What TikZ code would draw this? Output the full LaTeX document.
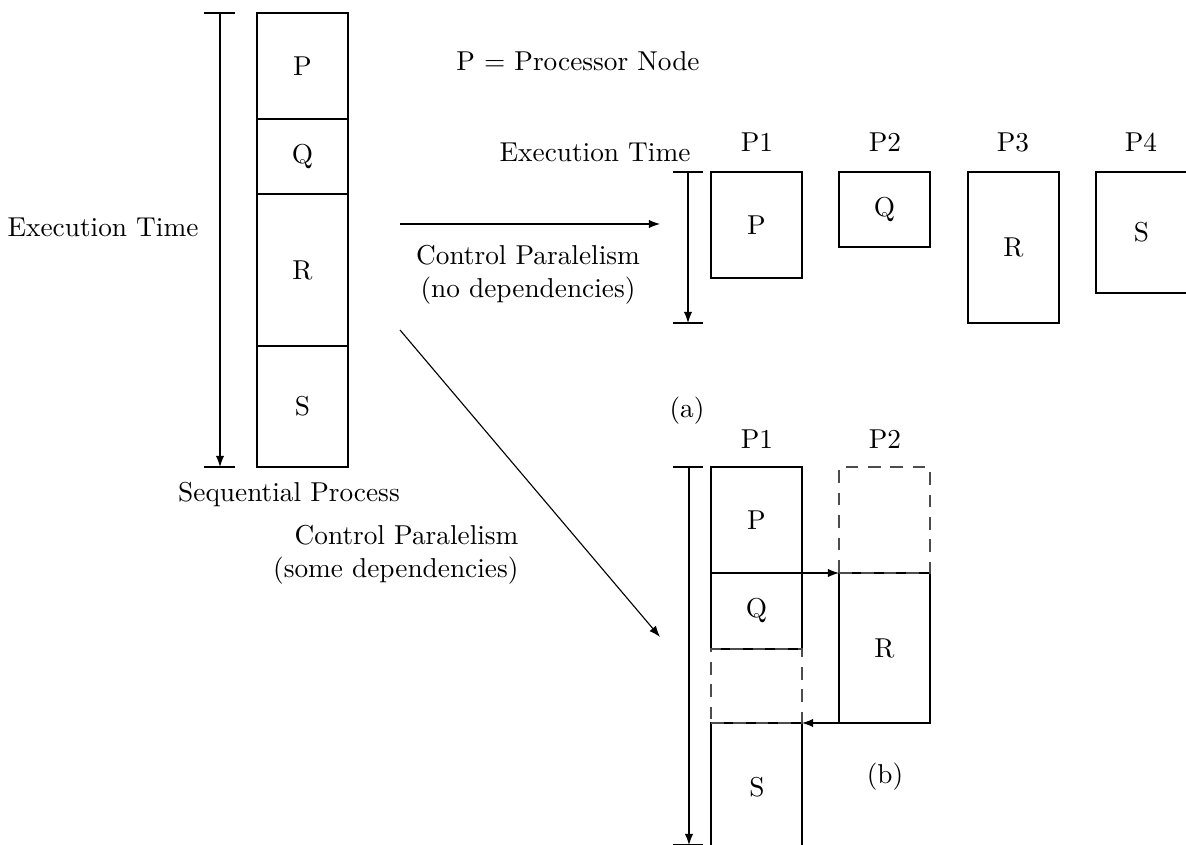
\documentclass[tikz,border=0pt]{standalone}
\usetikzlibrary{arrows.meta}
\newlength{\pxu}
\setlength{\pxu}{0.357pt}
\tikzset{
  box/.style={draw, line width=0.5pt, rectangle, inner sep=0pt, outer sep=0pt},
  ghost/.style={draw=black!70, line width=0.5pt, dash pattern=on 4.5pt off 3.5pt, rectangle, inner sep=0pt, outer sep=0pt},
  tick/.style={line width=0.5pt},
  arr/.style={line width=0.4pt, -{Latex[length=4pt,width=3pt]}},
  lbl/.style={inner sep=0pt, font=\fontsize{9.75}{11.8}\selectfont}
}
% box from corner (x1,y1) to (x2,y2) in pixel units: name, x1, y1, x2, y2, style, text
\newcommand{\pbox}[7]{%
  \node[#6, minimum width={(#4-#2)*\pxu}, minimum height={(#5-#3)*\pxu}, font=\fontsize{9.75}{11.8}\selectfont]
    (#1) at ({(#2+#4)/2},{(#3+#5)/2}) {#7};}
\begin{document}
\begin{tikzpicture}[x=\pxu, y=-\pxu]
\useasboundingbox (0,0) rectangle (1186,845);
\clip (0,0) rectangle (1186,845);

% sequential process
\pbox{sP}{257}{13}{348}{119}{box}{P}
\pbox{sQ}{257}{119}{348}{194}{box}{Q}
\pbox{sR}{257}{194}{348}{346}{box}{R}
\pbox{sS}{257}{346}{348}{467}{box}{S}
\coordinate (tA1) at (220,13);
\coordinate (tA2) at (220,467);
\draw[tick] (204,13) -- (235,13);
\draw[tick] (204,467) -- (235,467);
\draw[arr] (tA1) -- (tA2);
\node[lbl] (et1) at (103,227) {Execution Time};
\node[lbl] (sp) at (289,495) {Sequential Process};

\node[lbl] (legend) at (578,61) {P = Processor Node};

% (a) control parallelism, no dependencies
\coordinate (a1) at (400,224);
\coordinate (a2) at (660,224);
\draw[arr] (a1) -- (a2);
\node[lbl, align=center] (cpa) at (528,275) {Control Paralelism\\(no dependencies)};

\node[lbl] (et2) at (595,152) {Execution Time};
\draw[tick] (673,172) -- (703,172);
\draw[tick] (673,323) -- (703,323);
\coordinate (tB1) at (688,172);
\coordinate (tB2) at (688,323);
\draw[arr] (tB1) -- (tB2);

\pbox{aP}{711}{172}{802}{278}{box}{P}
\pbox{aQ}{839}{172}{930}{247}{box}{Q}
\pbox{aR}{968}{172}{1059}{323}{box}{R}
\pbox{aS}{1096}{172}{1187}{293}{box}{S}
\node[lbl] (hP1) at (757,142) {P1};
\node[lbl] (hP2) at (885,142) {P2};
\node[lbl] (hP3) at (1013,142) {P3};
\node[lbl] (hP4) at (1141,142) {P4};
\node[lbl] (capa) at (687,411) {(a)};

% (b) control parallelism, some dependencies
\coordinate (b1) at (400,330);
\coordinate (b2) at (660,637);
\draw[arr] (b1) -- (b2);
\node[lbl, align=right, anchor=east] (cpb) at (519,555) {Control Paralelism\\(some dependencies)};

\draw[tick] (673,467) -- (703,467);
\draw[tick] (673,845) -- (703,845);
\coordinate (tC1) at (689,467);
\coordinate (tC2) at (689,845);
\draw[arr] (tC1) -- (tC2);

\node[lbl] (hbP1) at (757,439) {P1};
\node[lbl] (hbP2) at (885,439) {P2};

\pbox{bP}{711}{467}{802}{573}{box}{P}
\pbox{bQ}{711}{573}{802}{649}{box}{Q}
\pbox{bS}{711}{723}{802}{900}{box}{}
\node[lbl] (bSl) at (757,787) {S};
\pbox{bR}{839}{573}{930}{723}{box}{R}
\pbox{bW1}{711}{649}{802}{723}{ghost}{}
\pbox{bW2}{839}{467}{930}{573}{ghost}{}

\draw[arr] (bP.south east) -- (bR.north west);
\draw[arr] (bR.south west) -- (bW1.south east);

\node[lbl] (capb) at (885,777) {(b)};
\end{tikzpicture}
\end{document}
